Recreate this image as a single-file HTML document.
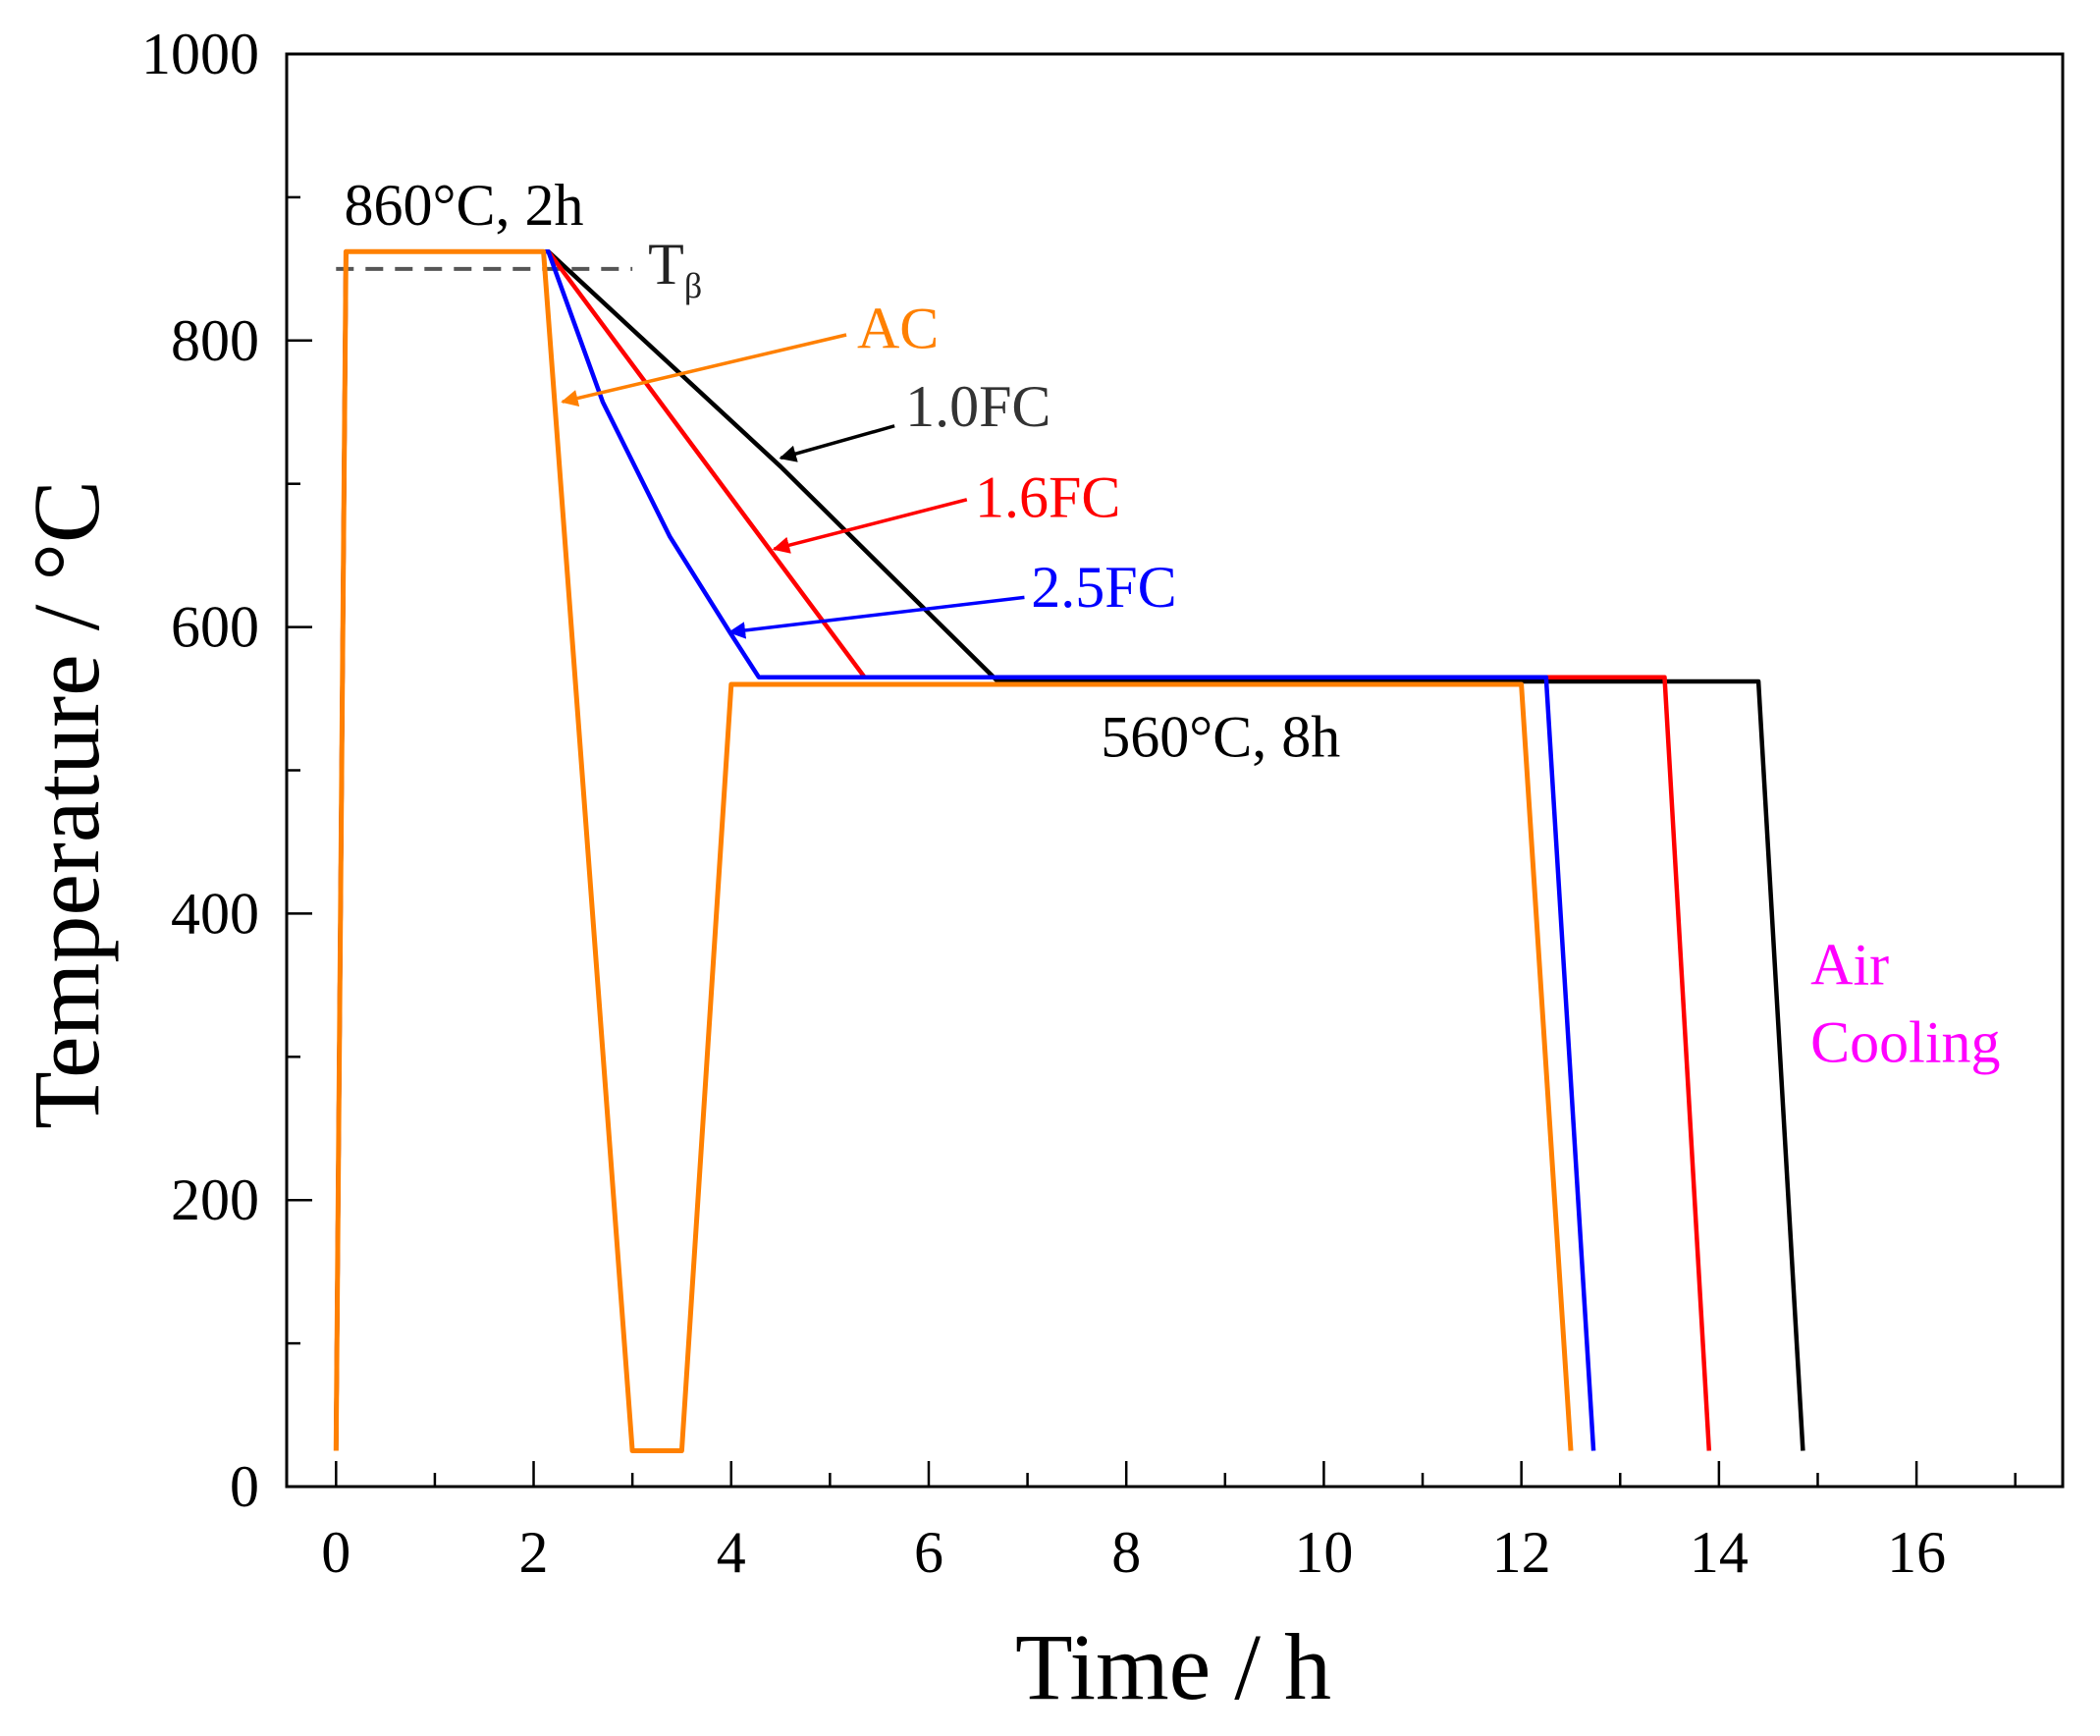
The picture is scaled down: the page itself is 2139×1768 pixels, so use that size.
<!DOCTYPE html>
<html><head><meta charset="utf-8">
<style>
html,body{margin:0;padding:0;background:#fff;}
svg{display:block;font-family:"Liberation Serif",serif;}
</style></head>
<body>
<svg id="chart" width="2139" height="1768" viewBox="0 0 2139 1768" xmlns="http://www.w3.org/2000/svg">
<defs>
<marker id="ah-o" viewBox="0 0 10 10" refX="9" refY="5" markerWidth="5" markerHeight="5" orient="auto"><path d="M0,0L10,5L0,10z" fill="#ff8000"/></marker>
<marker id="ah-k" viewBox="0 0 10 10" refX="9" refY="5" markerWidth="5" markerHeight="5" orient="auto"><path d="M0,0L10,5L0,10z" fill="#000"/></marker>
<marker id="ah-r" viewBox="0 0 10 10" refX="9" refY="5" markerWidth="5" markerHeight="5" orient="auto"><path d="M0,0L10,5L0,10z" fill="#ff0000"/></marker>
<marker id="ah-b" viewBox="0 0 10 10" refX="9" refY="5" markerWidth="5" markerHeight="5" orient="auto"><path d="M0,0L10,5L0,10z" fill="#0000ff"/></marker>
</defs>
<g id="axes"></g>
<g id="series"></g>
<g id="annot"></g>
</svg>
<script>
const xTicks = [0,2,4,6,8,10,12,14,16];
const yTicks = [0,200,400,600,800,1000];
const series1FC_t = [0,0.1,2.15,4.5,6.7,14.4,14.85];
const series1FC_T = [25,862,862,712,562,562,25];
const series16FC_t = [0,0.1,2.15,5.35,13.45,13.9];
const series16FC_T = [25,862,862,565,565,25];
const series25FC_t = [0,0.1,2.15,2.7,3.38,3.99,4.28,12.25,12.73];
const series25FC_T = [25,862,862,757,663,596,565,565,25];
const seriesAC_t = [0,0.1,2.1,3.0,3.5,4.0,12.0,12.5];
const seriesAC_T = [25,862,862,25,25,560,560,25];
const tBeta = 850;

const NS='http://www.w3.org/2000/svg';
const L=292,R=2101,T=55,B=1514;
const xMin=-0.5,xMax=17.48,yMin=0,yMax=1000;
const X=v=>L+(v-xMin)/(xMax-xMin)*(R-L);
const Y=v=>B-(v-yMin)/(yMax-yMin)*(B-T);
function mk(tag,attrs,parent,txt){const e=document.createElementNS(NS,tag);for(const k in attrs)e.setAttribute(k,attrs[k]);if(txt!==undefined)e.textContent=txt;parent.appendChild(e);return e;}
const axes=document.getElementById('axes'),ser=document.getElementById('series'),ann=document.getElementById('annot');

let fr=mk('rect',{x:L,y:T,width:R-L,height:B-T,fill:'none',stroke:'#000','stroke-width':3},axes);


for(let v=0;v<=17;v++){
  const major=v%2===0;
  let t=mk('line',{x1:X(v),x2:X(v),y1:B,y2:B-(major?26:14),stroke:'#000','stroke-width':2.5},axes);
  
  
}
xTicks.forEach(v=>{
  let t=mk('text',{x:X(v),y:B+87,'font-size':60,'text-anchor':'middle'},axes,String(v));
  
  
});
for(let v=0;v<=1000;v+=100){
  const major=v%200===0;
  let t=mk('line',{x1:L,x2:L+(major?26:14),y1:Y(v),y2:Y(v),stroke:'#000','stroke-width':2.5},axes);
  
  
}
yTicks.forEach(v=>{
  let t=mk('text',{x:L-28,y:Y(v)+20,'font-size':60,'text-anchor':'end'},axes,String(v));
  
  
});
let xt=mk('text',{x:1195,y:1730,'font-size':96,'text-anchor':'middle'},axes,'Time / h');


let yt=mk('text',{x:0,y:0,'font-size':96,'text-anchor':'middle',transform:`translate(100,${(T+B)/2+35}) rotate(-90)`},axes,'Temperature / °C');



let tb=mk('line',{x1:X(0),x2:X(3),y1:Y(tBeta),y2:Y(tBeta),stroke:'#555','stroke-width':4,'stroke-dasharray':'18 12'},ser);



function line(ts,vs,color,name,w){
  const d=ts.map((t,i)=>(i?'L':'M')+X(t).toFixed(1)+','+Y(vs[i]).toFixed(1)).join('');
  const p=mk('path',{d,fill:'none',stroke:color,'stroke-width':w,'stroke-linejoin':'round'},ser);
  
  
}
line(series1FC_t,series1FC_T,'#000','series-1-0fc',4.5);
line(series16FC_t,series16FC_T,'#ff0000','series-1-6fc',4.5);
line(series25FC_t,series25FC_T,'#0000ff','series-2-5fc',4.5);
line(seriesAC_t,seriesAC_T,'#ff8000','series-ac',5);

const s=1.364;
function arrow(x1,y1,x2,y2,color,mid,name){
  let a=mk('line',{x1:x1*s,y1:y1*s,x2:x2*s,y2:y2*s,stroke:color,'stroke-width':3.5,'marker-end':`url(#${mid})`},ann);
  
  
}
arrow(632,250,420,300,'#ff8000','ah-o','ac-arrow');
arrow(668,318,583,342,'#000','ah-k','1-0fc-arrow');
arrow(722,373,578,410,'#ff0000','ah-r','1-6fc-arrow');
arrow(765,446,545,472,'#0000ff','ah-b','2-5fc-arrow');

function label(txt,x,y,color,name,size){
  let t=mk('text',{x:x*s,y:y*s,'font-size':size||60,fill:color},ann,txt);
  
  
  return t;
}
label('860°C, 2h',257,168,'#000','solution-label');
let tbl=label('T',484,212,'#222','t-beta-label');
let sub=mk('tspan',{'font-size':36,dy:14},tbl,'β');
label('AC',640,260,'#ff8000','ac-label');
label('1.0FC',676,318,'#333','1-0fc-label');
label('1.6FC',728,386,'#ff0000','1-6fc-label');
label('2.5FC',770,453,'#0000ff','2-5fc-label');
label('560°C, 8h',822,565,'#000','aging-label');
label('Air',1352,735,'#ff00ff','air-cooling-label-1');
label('Cooling',1352,793,'#ff00ff','air-cooling-label-2');
</script>
</body></html>
